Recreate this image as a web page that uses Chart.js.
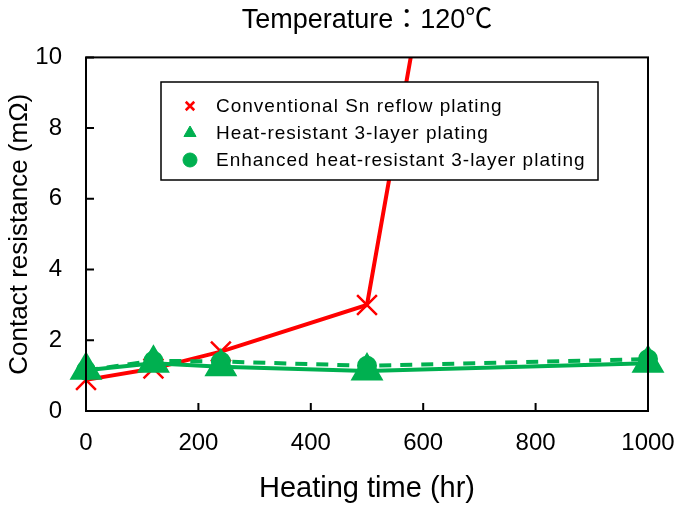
<!DOCTYPE html>
<html>
<head>
    <title>Contact resistance vs heating time</title>
    <script src="https://cdn.jsdelivr.net/npm/chart.js"></script>
    <style>
        body { margin: 0; background: #fff; }
        #wrap { width: 679px; height: 506px; }
    </style>
</head>
<body>
    <div id="wrap"><canvas id="resChart"></canvas></div>

    <script>
        // heating time (hr)
        const hours = [0, 120, 240, 500, 1000];
        // contact resistance (mOhm)
        const snReflow = [0.88, 1.2, 1.68, 3.0, 48];
        const heatResistant = [1.15, 1.35, 1.25, 1.13, 1.35];
        const enhanced = [1.15, 1.42, 1.4, 1.28, 1.47];
        const yTicks = [0, 2, 4, 6, 8, 10];
        const xTicks = [0, 200, 400, 600, 800, 1000];

        const legendItems = [
            { label: 'Conventional Sn reflow plating', style: 'crossRot', color: '#ff0000' },
            { label: 'Heat-resistant 3-layer plating', style: 'triangle', color: '#00b050' },
            { label: 'Enhanced heat-resistant 3-layer plating', style: 'circle', color: '#00b050' }
        ];

        const FONT = "'Liberation Sans', Arial, 'Noto Sans CJK JP', sans-serif";
        const RED = '#ff0000';
        const GREEN = '#00b050';

        function pts(ys) {
            return hours.map((h, i) => ({ x: h, y: ys[i] }));
        }

        // box around plot + inward tick marks + legend box
        const framePlugin = {
            id: 'frame',
            afterDraw(chart) {
                const ctx = chart.ctx;
                const a = chart.chartArea;
                const xs = chart.scales.x, ys = chart.scales.y;
                ctx.save();
                ctx.strokeStyle = '#000';
                ctx.lineWidth = 2;
                ctx.strokeRect(a.left, a.top, a.right - a.left, a.bottom - a.top);
                ctx.beginPath();
                xTicks.forEach(v => {
                    const px = xs.getPixelForValue(v);
                    ctx.moveTo(px, a.bottom);
                    ctx.lineTo(px, a.bottom - 8);
                });
                yTicks.forEach(v => {
                    const py = ys.getPixelForValue(v);
                    ctx.moveTo(a.left, py);
                    ctx.lineTo(a.left + 8, py);
                });
                ctx.stroke();

                // legend
                const lx = 161, ly = 82, lw = 437, lh = 98;
                ctx.fillStyle = '#fff';
                ctx.fillRect(lx, ly, lw, lh);
                ctx.lineWidth = 1.5;
                ctx.strokeRect(lx, ly, lw, lh);
                ctx.font = '19px ' + FONT;
                ctx.letterSpacing = '1px';
                ctx.textBaseline = 'middle';
                legendItems.forEach((it, i) => {
                    const y = ly + 24 + i * 27;
                    const opts = {
                        pointStyle: it.style,
                        radius: it.style === 'crossRot' ? 6 : 7,
                        borderWidth: it.style === 'crossRot' ? 2.5 : 1,
                        rotation: 0
                    };
                    ctx.fillStyle = it.color;
                    ctx.strokeStyle = it.color;
                    ctx.lineWidth = opts.borderWidth;
                    Chart.helpers.drawPoint(ctx, opts, 190, y);
                    ctx.fillStyle = '#000';
                    ctx.fillText(it.label, 216, y + 1);
                });
                ctx.restore();
            }
        };

        const clipBox = { left: 20, right: 20, top: 0, bottom: 20 };

        const ctx = document.getElementById('resChart').getContext('2d');
        new Chart(ctx, {
            type: 'scatter',
            data: {
                datasets: [
                    {
                        label: 'Conventional Sn reflow plating',
                        data: pts(snReflow),
                        showLine: true,
                        clip: clipBox,
                        borderColor: RED,
                        backgroundColor: RED,
                        borderWidth: 4,
                        pointStyle: 'crossRot',
                        pointRadius: 14,
                        pointBorderWidth: 2.5,
                        pointHoverRadius: 14,
                        order: 3
                    },
                    {
                        label: 'Enhanced heat-resistant 3-layer plating',
                        data: pts(enhanced),
                        showLine: true,
                        clip: clipBox,
                        borderColor: GREEN,
                        backgroundColor: GREEN,
                        borderWidth: 4,
                        borderDash: [12, 9],
                        pointStyle: 'circle',
                        pointRadius: 8,
                        pointHoverRadius: 8,
                        order: 2
                    },
                    {
                        label: 'Heat-resistant 3-layer plating',
                        data: pts(heatResistant),
                        showLine: true,
                        clip: clipBox,
                        borderColor: GREEN,
                        backgroundColor: GREEN,
                        borderWidth: 4,
                        pointStyle: 'triangle',
                        pointRadius: 15,
                        pointHoverRadius: 15,
                        order: 1
                    }
                ]
            },
            options: {
                responsive: true,
                maintainAspectRatio: false,
                animation: false,
                layout: { padding: { left: 0, right: 31, top: 0, bottom: 0 } },
                plugins: {
                    legend: { display: false },
                    tooltip: { enabled: false },
                    title: {
                        display: true,
                        fullSize: false,
                        text: 'Temperature：120℃',
                        color: '#000',
                        font: { family: FONT, size: 27, weight: 'normal' },
                        padding: { top: 4, bottom: 21 }
                    }
                },
                scales: {
                    x: {
                        type: 'linear',
                        min: 0,
                        max: 1000,
                        afterBuildTicks: s => { s.ticks = xTicks.map(v => ({ value: v })); },
                        afterFit: s => { s.height = 95; s.paddingLeft = 0; s.paddingRight = 0; },
                        grid: { display: false },
                        border: { display: false },
                        ticks: {
                            color: '#000',
                            padding: 10,
                            font: { family: FONT, size: 24 },
                            callback: v => String(v)
                        },
                        title: {
                            display: true,
                            text: 'Heating time (hr)',
                            color: '#000',
                            font: { family: FONT, size: 29 },
                            padding: { top: 14, bottom: 0 }
                        }
                    },
                    y: {
                        min: 0,
                        max: 10,
                        afterBuildTicks: s => { s.ticks = yTicks.map(v => ({ value: v })); },
                        afterFit: s => { s.width = 86; },
                        grid: { display: false },
                        border: { display: false },
                        ticks: {
                            color: '#000',
                            padding: 16,
                            font: { family: FONT, size: 24 },
                            callback: v => String(v)
                        },
                        title: {
                            display: true,
                            text: 'Contact resistance (mΩ)',
                            color: '#000',
                            font: { family: FONT, size: 26 },
                            padding: { bottom: 0 }
                        }
                    }
                }
            },
            plugins: [framePlugin]
        });
    </script>
</body>
</html>
